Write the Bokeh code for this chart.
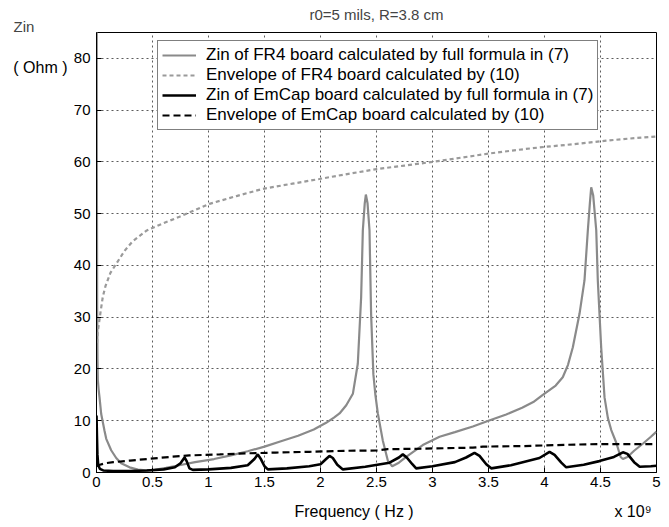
from bokeh.plotting import figure
from bokeh.models import Range1d, FixedTicker, LinearAxis, Title
from bokeh.embed import file_html
from bokeh.resources import INLINE

# ---------------- data (frequency in units of 1e9 Hz, Zin in Ohm) ----------------
fr4_f = [0.0, 0.001, 0.003, 0.006, 0.009, 0.012, 0.02, 0.027, 0.042, 0.071, 0.087, 0.131,
         0.176, 0.22, 0.295, 0.37, 0.44, 0.52, 0.62, 0.74, 0.88, 1.05, 1.2, 1.35, 1.5,
         1.64, 1.8, 1.94, 2.05, 2.12, 2.17, 2.23, 2.289, 2.333, 2.363, 2.378, 2.395, 2.405,
         2.42, 2.4375, 2.452, 2.472, 2.49, 2.512, 2.556, 2.601, 2.64, 2.7, 2.765, 2.913,
         3.063, 3.2, 3.36, 3.5, 3.658, 3.8, 3.9, 3.985, 4.1, 4.163, 4.21, 4.253, 4.313,
         4.357, 4.387, 4.405, 4.417, 4.435, 4.462, 4.476, 4.506, 4.536, 4.566, 4.596, 4.64,
         4.68, 4.7, 4.74, 4.8, 4.88, 4.95, 5.0]
fr4_zin = [200, 150, 60, 32, 22, 17.8, 15.8, 14.5, 11.3, 8.1, 6.5, 4.3,
           2.8, 1.8, 1.0, 0.55, 0.4, 0.5, 0.9, 1.4, 2.0, 2.6, 3.3, 4.1, 5.0,
           6.0, 7.1, 8.3, 9.6, 10.6, 11.4, 13.0, 15.2, 21.0, 33.9, 46.8, 52.0, 53.7,
           52.0, 46.8, 30.5, 19.0, 15.0, 11.4, 6.2, 2.3, 1.2, 1.9, 3.0, 5.3,
           6.9, 7.8, 8.9, 10.0, 11.2, 12.5, 13.6, 15.0, 16.8, 18.4, 20.8, 24.2, 30.7,
           37.1, 46.8, 52.0, 55.1, 53.5, 46.8, 37.1, 24.2, 14.5, 10.5, 8.2, 5.8,
           3.0, 2.6, 3.0, 4.2, 5.6, 6.9, 7.9]

fr4_env_f = [0.005, 0.01, 0.02, 0.036, 0.056, 0.08, 0.125, 0.176, 0.25, 0.32, 0.444, 0.6,
             0.741, 1.009, 1.25, 1.485, 1.75, 1.99, 2.25, 2.5, 2.75, 3.0, 3.25, 3.5, 3.75,
             4.0, 4.25, 4.55, 4.75, 5.0]
fr4_env = [25.0, 27.0, 28.5, 31.0, 33.9, 36.0, 38.6, 40.3, 42.8, 44.6, 46.7, 48.2,
           49.4, 51.9, 53.4, 54.8, 55.8, 56.7, 57.7, 58.6, 59.3, 60.0, 60.8, 61.6, 62.3,
           62.9, 63.4, 64.1, 64.5, 64.9]

emcap_f = [0.0, 0.004, 0.008, 0.015, 0.03, 0.06, 0.15, 0.3, 0.45, 0.6, 0.7, 0.75, 0.786,
           0.805, 0.83, 0.86, 1.0, 1.2, 1.35, 1.41, 1.44, 1.47, 1.5, 1.53, 1.7, 1.9, 2.0,
           2.05, 2.08, 2.11, 2.15, 2.2, 2.4, 2.616, 2.7, 2.735, 2.77, 2.82, 2.854, 3.0, 3.2,
           3.3, 3.375, 3.42, 3.48, 3.524, 3.7, 3.955, 4.045, 4.09, 4.15, 4.194, 4.35, 4.49,
           4.62, 4.7, 4.74, 4.8, 4.85, 4.95, 5.0]
emcap_zin = [11.0, 7.0, 3.5, 1.5, 0.7, 0.4, 0.3, 0.3, 0.4, 0.6, 1.0, 1.8, 2.9,
             2.2, 0.8, 0.5, 0.6, 0.9, 1.4, 2.6, 3.5, 2.5, 1.2, 0.6, 0.8, 1.2, 1.6,
             2.6, 3.2, 2.8, 1.5, 0.6, 1.1, 1.9, 2.9, 3.5, 2.9, 1.6, 0.8, 1.2, 2.0,
             2.9, 3.8, 3.2, 1.6, 0.8, 1.4, 2.8, 4.0, 3.4, 1.9, 1.0, 1.5, 2.2,
             3.0, 3.9, 3.6, 2.0, 1.1, 1.2, 1.3]

emcap_env_f = [0.0, 0.03, 0.08, 0.15, 0.3, 0.45, 0.65, 0.83, 1.1, 1.34, 1.6, 1.9, 2.23,
               2.5, 2.6, 2.9, 3.36, 3.45, 3.8, 4.1, 4.5, 5.0]
emcap_env = [1.2, 1.5, 1.8, 2.0, 2.3, 2.6, 3.0, 3.3, 3.5, 3.7, 3.85, 4.0, 4.2,
             4.25, 4.5, 4.6, 4.8, 5.0, 5.1, 5.3, 5.5, 5.5]

x_ticks = [0, 0.5, 1, 1.5, 2, 2.5, 3, 3.5, 4, 4.5, 5]
x_tick_labels = ["0", "0.5", "1", "1.5", "2", "2.5", "3", "3.5", "4", "4.5", "5"]
y_ticks = [0, 10, 20, 30, 40, 50, 60, 70, 80]

legend_labels = ["Zin of FR4 board calculated by full formula in (7)",
                 "Envelope of FR4 board calculated by (10)",
                 "Zin of EmCap board calculated by full formula in (7)",
                 "Envelope of EmCap board calculated by (10)"]

title_text = "r0=5 mils, R=3.8 cm"
ylabel_top = "Zin"
ylabel_unit = "( Ohm )"
ylabel_unit_at = 78.2          # y (Ohm) level of the unit text
xlabel_text = "Frequency ( Hz )"
xlabel_at = 2.3                # x (1e9 Hz) position of the axis title
xscale_text = "x 10\u2079"
xscale_at = 4.79

FONT = "Liberation Sans"

p = figure(width=669, height=527, output_backend="svg", toolbar_location=None,
           title=None, x_range=Range1d(0, 5), y_range=Range1d(0, 85),
           min_border_left=96, min_border_right=13, min_border_top=32,
           min_border_bottom=55)
p.background_fill_color = "white"
p.border_fill_color = "white"
p.outline_line_color = "black"
p.outline_line_width = 1

xa = p.xaxis[0]
ya = p.yaxis[0]
xa.ticker = FixedTicker(ticks=x_ticks)
xa.major_label_overrides = {t: l for t, l in zip(x_ticks, x_tick_labels)}
ya.ticker = FixedTicker(ticks=y_ticks)
for ax in (xa, ya):
    ax.major_tick_in = 5
    ax.major_tick_out = 0
    ax.minor_tick_line_color = None
    ax.axis_line_color = "black"
    ax.major_tick_line_color = "black"
    ax.major_label_text_font = FONT
    ax.major_label_text_font_size = "15px"
    ax.major_label_text_color = "black"
xa.major_label_standoff = 4
ya.major_label_standoff = 6

for g in (p.xgrid[0], p.ygrid[0]):
    g.grid_line_color = "#333333"
    g.grid_line_dash = "2 3"
    g.grid_line_width = 1
    g.grid_line_alpha = 0.8
p.xgrid[0].ticker = FixedTicker(ticks=x_ticks)
p.ygrid[0].ticker = FixedTicker(ticks=y_ticks)

p.line(fr4_f, fr4_zin, line_color="#8a8a8a", line_width=2.2, legend_label=legend_labels[0])
p.line(fr4_env_f, fr4_env, line_color="#9a9a9a", line_width=2.2, line_dash="4 3",
       legend_label=legend_labels[1])
p.line(emcap_f, emcap_zin, line_color="black", line_width=2.6, legend_label=legend_labels[2])
p.line(emcap_env_f, emcap_env, line_color="black", line_width=2.2, line_dash="7 4",
       legend_label=legend_labels[3])

lg = p.legend[0]
lg.location = (61, 342)
lg.margin = 0
lg.padding = 4
lg.spacing = 0
lg.glyph_width = 34
lg.glyph_height = 20
lg.label_height = 20
lg.label_standoff = 10
lg.label_text_font = FONT
lg.label_text_font_size = "17px"
lg.label_text_color = "black"
lg.border_line_color = "black"
lg.border_line_width = 1
lg.background_fill_color = "white"
lg.background_fill_alpha = 1.0

# titles above the frame
t_zin = Title(text=ylabel_top, align="left", offset=-83, text_font=FONT,
              text_font_size="15px", text_font_style="normal", standoff=-4)
t_main = Title(text=title_text, align="center", text_font=FONT,
               text_font_size="15px", text_font_style="normal", standoff=-10)
p.add_layout(t_zin, "above")
p.add_layout(t_main, "above")

# text-only axis below: x axis title and the scale factor
xl = LinearAxis(ticker=FixedTicker(ticks=[xlabel_at, xscale_at]),
                major_label_overrides={xlabel_at: xlabel_text, xscale_at: xscale_text},
                axis_line_color=None, major_tick_line_color=None,
                minor_tick_line_color=None, major_tick_in=0, major_tick_out=0,
                major_label_standoff=13, major_label_text_font=FONT,
                major_label_text_font_size="16px", major_label_text_color="black")
p.add_layout(xl, "below")

# text-only axis on the left: unit text
yl = LinearAxis(ticker=FixedTicker(ticks=[ylabel_unit_at]),
                major_label_overrides={ylabel_unit_at: ylabel_unit},
                axis_line_color=None, major_tick_line_color=None,
                minor_tick_line_color=None, major_tick_in=0, major_tick_out=0,
                major_label_standoff=3, major_label_text_font=FONT,
                major_label_text_font_size="16px", major_label_text_color="black")
p.add_layout(yl, "left")

open("out.html", "w").write(file_html(p, INLINE))
